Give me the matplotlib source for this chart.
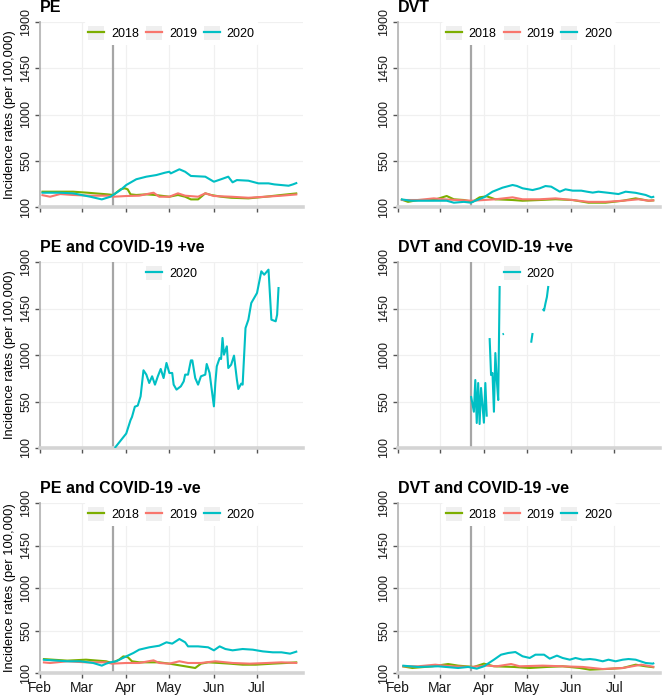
import numpy as np
import pandas as pd
import matplotlib
matplotlib.use("Agg")
import matplotlib.pyplot as plt
from matplotlib.patches import Patch
from matplotlib.lines import Line2D

plt.rcParams['font.family'] = ['Liberation Sans', 'DejaVu Sans']

# ---------------- data ----------------
years = ["2018", "2019", "2020"]
colors = {"2018": "#7CAE00", "2019": "#F8766D", "2020": "#00BFC4"}
titles = ["PE", "DVT", "PE and COVID-19 +ve", "DVT and COVID-19 +ve",
          "PE and COVID-19 -ve", "DVT and COVID-19 -ve"]
y_ticks = [100, 550, 1000, 1450, 1900]
month_labels = ["Feb", "Mar", "Apr", "May", "Jun", "Jul"]
month_starts = ["02-01", "03-01", "04-01", "05-01", "06-01", "07-01"]
lockdown_date = "03-23"

# PE (all)
pe_2020_d = ["02-02", "02-15", "02-24", "03-07", "03-15", "03-21", "03-28", "04-01", "04-08", "04-15",
             "04-22", "04-28", "05-01", "05-02", "05-08", "05-12", "05-16", "05-26", "06-01", "06-06",
             "06-11", "06-14", "06-17", "06-25", "07-02", "07-09", "07-13", "07-23", "07-26", "07-29"]
pe_2020_v = [239, 239, 233, 200, 174, 200, 265, 314, 370, 395,
             411, 434, 443, 427, 467, 443, 402, 395, 346, 370,
             395, 340, 362, 356, 330, 330, 320, 307, 320, 336]
pe_2018_d = ["02-02", "02-24", "03-05", "03-19", "03-23", "03-28", "03-31", "04-02", "04-04", "04-08",
             "04-15", "04-21", "05-01", "05-07", "05-12", "05-16", "05-21", "05-26", "05-30", "06-06",
             "06-13", "06-25", "07-07", "07-18", "07-29"]
pe_2018_v = [249, 249, 239, 223, 217, 272, 282, 272, 223, 217,
             223, 217, 200, 217, 200, 174, 174, 233, 217, 200,
             190, 184, 200, 217, 233]
pe_2019_d = ["02-02", "02-08", "02-15", "02-24", "03-07", "03-19", "03-23", "04-01", "04-10", "04-20",
             "04-24", "05-01", "05-07", "05-12", "05-21", "05-26", "06-01", "06-13", "06-25", "07-07",
             "07-18", "07-29"]
pe_2019_v = [217, 200, 226, 217, 210, 210, 200, 207, 210, 239,
             200, 200, 233, 210, 200, 233, 207, 200, 190, 200,
             210, 223]

# DVT (all)
dvt_2020_d = ["02-03", "02-10", "02-19", "02-28", "03-06", "03-11", "03-18", "03-23", "03-26", "04-01",
              "04-07", "04-14", "04-21", "04-24", "04-28", "05-05", "05-10", "05-14", "05-18", "05-24",
              "05-28", "06-02", "06-08", "06-12", "06-16", "06-20", "06-27", "07-04", "07-09", "07-16",
              "07-23", "07-27", "07-29"]
dvt_2020_v = [175, 161, 161, 161, 161, 142, 150, 142, 161, 194,
              249, 288, 314, 305, 282, 265, 282, 304, 298, 249,
              272, 259, 259, 249, 240, 249, 238, 226, 249, 238,
              217, 194, 201]
dvt_2018_d = ["02-03", "02-08", "02-15", "02-26", "03-06", "03-11", "03-18", "03-24", "03-29", "04-03",
              "04-09", "04-21", "04-28", "05-10", "05-21", "06-02", "06-13", "06-25", "07-07", "07-16",
              "07-25", "07-29"]
dvt_2018_v = [175, 150, 168, 168, 207, 175, 168, 150, 194, 204,
              175, 168, 161, 168, 175, 168, 142, 142, 161, 184,
              161, 165]
dvt_2019_d = ["02-03", "02-15", "02-26", "03-04", "03-13", "03-24", "04-01", "04-09", "04-21", "04-28",
              "05-10", "05-21", "06-02", "06-13", "06-25", "07-07", "07-18", "07-25", "07-29"]
dvt_2019_v = [168, 168, 184, 175, 168, 161, 168, 175, 194, 175,
              175, 184, 168, 150, 150, 161, 175, 161, 165]

# PE and COVID-19 +ve (2020 only)
pep_2020_d = ["03-24", "04-01", "04-04", "04-05", "04-07", "04-09", "04-11", "04-13", "04-15", "04-17",
              "04-19", "04-21", "04-23", "04-25", "04-27", "04-29", "05-01", "05-03", "05-04", "05-06",
              "05-09", "05-11", "05-12", "05-14", "05-16", "05-17", "05-19", "05-21", "05-23", "05-26",
              "05-27", "05-29", "06-01", "06-02", "06-03", "06-05", "06-06", "06-07", "06-08", "06-10",
              "06-11", "06-13", "06-15", "06-17", "06-18", "06-20", "06-21", "06-23", "06-25", "06-27",
              "07-01", "07-04", "07-06", "07-09", "07-11", "07-14", "07-15", "07-16"]
pep_2020_v = [100, 240, 370, 400, 500, 510, 600, 852, 810, 729,
              794, 713, 794, 865, 777, 923, 826, 826, 713, 665,
              697, 745, 810, 810, 948, 948, 777, 713, 794, 810,
              913, 826, 503, 729, 890, 971, 961, 1165, 1003, 1084,
              874, 906, 994, 761, 671, 723, 713, 1261, 1342, 1503,
              1600, 1810, 1777, 1826, 1342, 1326, 1390, 1658]

# DVT and COVID-19 +ve (2020 only, gaps are missing days)
dvtp_2020_d = ["03-23", "03-25", "03-26", "03-27", "03-28", "03-29", "03-30", "04-01", "04-02", "04-03",
               "04-04",
               "04-05", "04-06", "04-07", "04-08", "04-09", "04-10", "04-11", "04-12", "04-13",
               "04-14", "04-15", "04-16",
               "05-04", "05-05", "05-06",
               "05-12", "05-13", "05-14", "05-15", "05-16"]
dvtp_2020_v = [603, 451, 758, 342, 729, 332, 681, 345, 729, 403,
               np.nan,
               1164, 806, 826, 451, 1019, 758, 564, 1668, np.nan,
               1200, 1205, np.nan,
               1119, 1213, np.nan,
               1445, 1430, 1500, 1561, 1668]

# PE and COVID-19 -ve
pen_2020_d = ["02-03", "02-20", "02-29", "03-09", "03-15", "03-18", "03-21", "03-25", "04-01", "04-06",
              "04-10", "04-17", "04-24", "04-29", "05-03", "05-08", "05-12", "05-14", "05-21", "05-28",
              "06-01", "06-05", "06-09", "06-14", "06-21", "06-28", "07-05", "07-12", "07-18", "07-24",
              "07-29"]
pen_2020_v = [241, 224, 224, 206, 178, 199, 213, 224, 276, 312,
              347, 372, 389, 425, 411, 460, 425, 382, 382, 372,
              340, 382, 354, 340, 354, 347, 329, 319, 319, 305,
              329]
pen_2018_d = ["02-03", "02-20", "03-04", "03-18", "03-22", "03-27", "03-30", "04-02", "04-05", "04-10",
              "04-24", "05-01", "05-12", "05-19", "05-23", "05-28", "06-05", "06-12", "06-21", "06-30",
              "07-12", "07-21", "07-29"]
pen_2018_v = [248, 231, 241, 224, 206, 241, 276, 269, 224, 213,
              213, 199, 171, 153, 199, 213, 206, 199, 188, 188,
              199, 206, 213]
pen_2019_d = ["02-03", "02-08", "02-20", "03-04", "03-18", "03-22", "04-01", "04-10", "04-20", "04-24",
              "05-01", "05-08", "05-14", "05-23", "06-02", "06-14", "06-26", "07-08", "07-18", "07-29"]
pen_2019_v = [213, 206, 224, 213, 213, 199, 206, 206, 234, 206,
              199, 224, 206, 206, 224, 206, 199, 206, 213, 206]

# DVT and COVID-19 -ve
dvtn_2020_d = ["02-04", "02-15", "02-29", "03-14", "03-21", "03-27", "04-01", "04-08", "04-13", "04-18",
               "04-23", "04-28", "05-03", "05-07", "05-13", "05-17", "05-22", "05-26", "05-31", "06-04",
               "06-09", "06-14", "06-18", "06-23", "06-27", "07-02", "07-07", "07-11", "07-16", "07-23",
               "07-28", "07-29"]
dvtn_2020_v = [178, 164, 171, 153, 164, 146, 171, 241, 294, 312,
               322, 277, 259, 294, 294, 252, 284, 259, 241, 259,
               241, 248, 241, 224, 241, 224, 241, 248, 241, 206,
               199, 206]
dvtn_2018_d = ["02-04", "02-11", "02-25", "03-07", "03-14", "03-25", "04-01", "04-08", "04-22", "05-03",
               "05-15", "05-26", "06-07", "06-14", "06-25", "07-07", "07-16", "07-23", "07-29"]
dvtn_2018_v = [171, 153, 171, 195, 178, 164, 199, 171, 164, 153,
               164, 171, 153, 135, 142, 153, 188, 171, 160]
dvtn_2019_d = ["02-04", "02-15", "02-27", "03-09", "03-23", "04-03", "04-10", "04-20", "04-26", "05-12",
               "05-26", "06-09", "06-23", "07-07", "07-20", "07-29"]
dvtn_2019_v = [171, 171, 188, 171, 164, 178, 171, 195, 171, 178,
               171, 164, 142, 153, 188, 164]

panels = [
    {"2018": (pe_2018_d, pe_2018_v), "2019": (pe_2019_d, pe_2019_v), "2020": (pe_2020_d, pe_2020_v)},
    {"2018": (dvt_2018_d, dvt_2018_v), "2019": (dvt_2019_d, dvt_2019_v), "2020": (dvt_2020_d, dvt_2020_v)},
    {"2020": (pep_2020_d, pep_2020_v)},
    {"2020": (dvtp_2020_d, dvtp_2020_v)},
    {"2018": (pen_2018_d, pen_2018_v), "2019": (pen_2019_d, pen_2019_v), "2020": (pen_2020_d, pen_2020_v)},
    {"2018": (dvtn_2018_d, dvtn_2018_v), "2019": (dvtn_2019_d, dvtn_2019_v), "2020": (dvtn_2020_d, dvtn_2020_v)},
]


def to_dt(lst):
    return pd.to_datetime(["2020-" + s for s in lst])


# ---------------- layout ----------------
W, H = 664, 697
fig = plt.figure(figsize=(W / 100, H / 100), dpi=100)

col_x = [(40, 303), (398, 660)]
row_y = [(22, 207), (262, 448), (503, 673)]

for i, data in enumerate(panels):
    r, c = divmod(i, 2)
    x0, x1 = col_x[c]
    yt, yb = row_y[r]
    ax = fig.add_axes([x0 / W, 1 - yb / H, (x1 - x0) / W, (yb - yt) / H])

    for yr in years:
        if yr in data:
            d, v = data[yr]
            ax.plot(to_dt(d), v, color=colors[yr], lw=1.5, zorder=3, solid_capstyle='butt')

    ax.axvline(pd.Timestamp("2020-" + lockdown_date), color="#a6a6a6", lw=1.6, zorder=2)

    ax.set_ylim(y_ticks[0], y_ticks[-1])
    ax.set_xlim(pd.Timestamp("2020-02-01"), pd.Timestamp("2020-08-02"))
    ax.set_yticks(y_ticks)
    ax.set_yticklabels([str(t) for t in y_ticks], rotation=90, va="center", fontsize=9, color="#1a1a1a")
    ax.set_xticks(to_dt(month_starts))
    if r == 2:
        ax.set_xticklabels(month_labels, fontsize=10, color="#1a1a1a")
    else:
        ax.set_xticklabels([])
    ax.grid(True, color="#f0f0f0", lw=0.9, zorder=0)
    ax.set_axisbelow(True)
    for s in ["top", "right"]:
        ax.spines[s].set_visible(False)
    ax.spines["left"].set_color("#b8b8b8")
    ax.spines["left"].set_linewidth(1.3)
    ax.spines["bottom"].set_color("#d4d4d4")
    ax.spines["bottom"].set_linewidth(2.6)
    ax.tick_params(axis="both", length=3.5, width=1.0, color="#555555", pad=2)

    ax.set_title(titles[i], loc="left", fontsize=11.5, fontweight="bold", pad=7)
    if c == 0:
        ax.set_ylabel("Incidence rates (per 100,000)", fontsize=9.3, labelpad=3)

    handles, labels = [], []
    for yr in years:
        if yr in data:
            handles.append((Patch(facecolor="#efefef", edgecolor="none"),
                            Line2D([], [], color=colors[yr], lw=1.6)))
            labels.append(yr)
    leg = ax.legend(handles, labels, loc="upper center", bbox_to_anchor=(0.5, 1.0),
                    ncol=len(labels), frameon=True, fontsize=9, handlelength=1.28,
                    handleheight=1.3, handletextpad=0.55, columnspacing=0.56,
                    borderaxespad=0.0, borderpad=0.35)
    leg.get_frame().set_facecolor("white")
    leg.get_frame().set_edgecolor("none")
    leg.get_frame().set_alpha(1.0)
    leg.set_zorder(10)

fig.savefig("out.png", dpi=100)
